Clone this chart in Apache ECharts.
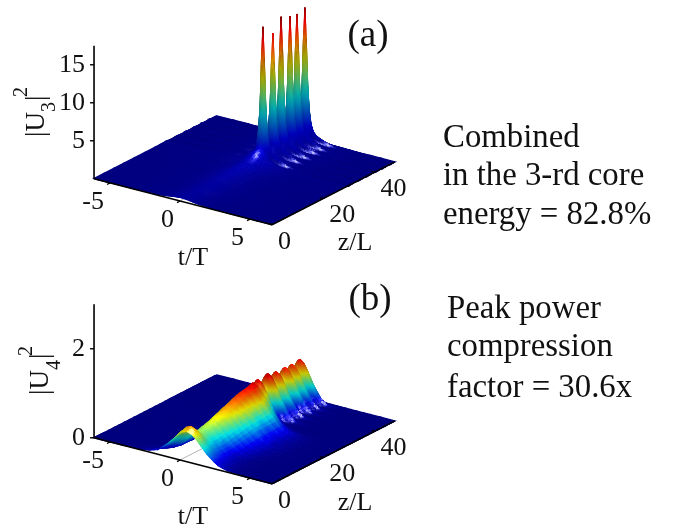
<!DOCTYPE html>
<html><head><meta charset="utf-8">
<style>html,body{margin:0;padding:0;background:#fff}#c{width:681px;height:525px}</style>
<script src="https://cdn.jsdelivr.net/npm/echarts@6/dist/echarts.min.js"></script>
</head><body><div id="c"></div>
<script>
// ---------- data ----------
const tStations=[-6.14,-5,-4,-3.2,-2.6,-2.2,-1.9,-1.6,-1.4,-1.2,-1,-.85,-.7,-.6,-.5,-.4,-.3,-.2,-.1,0,.1,.2,.3,.4,.5,.6,.7,.8,.9,1,1.1,1.2,1.35,1.5,1.7,1.9,2.1,2.4,2.7,3,3.4,3.8,4.3,4.8,5.5,6.57];
// core 3: z station, ridge height, ridge width, ridge centre
const zU3=[0,4,8,12,16,20,24,26,27,28,28.8,29.2,29.45,29.7,29.95,30.2,30.45,30.7,30.95,31.2,31.6,32.15,32.7,33.1,33.35,33.6,33.85,34.1,34.35,34.6,34.85,35.1,35.4,35.7,36,36.3,36.55,36.8,37.05,37.3,37.55,37.8,38.05,38.3,38.7,39.05,39.4,39.8,40.05,40.3,40.55,40.8,41.05,41.3,41.55,41.8,42,42.15,42.3,42.5,42.75,43,43.25,43.5,43.75,44,44.25,44.5,44.8,45.05,45.3,45.6,45.85,46.1,46.35,46.6,46.85,47.1,47.35,47.6,48];
const peakU3=[.5,.5,.55,.6,.7,.8,1,1.3,1.6,1.9,2.1,2.8,4.5,7.5,12.9,17.9,12.9,7.5,4.3,2.5,1.5,1.2,1.2,2.3,3.9,6.9,11.8,16.4,11.8,6.9,3.9,2.3,1.5,1.3,1.4,2.5,4.3,7.5,13,18,13,7.5,4.3,2.5,1.5,1.2,1.4,2.4,4.2,7.3,12.6,17.5,12.6,7.3,4.2,2.4,1.8,1.5,1.7,2.4,4.1,7.2,12.4,17.3,12.4,7.2,4.1,2.4,1.5,1.4,1.6,2.4,4.2,7.3,12.7,17.6,12.7,7.3,4.2,2.4,.3];
const widthU3=[1.3,1.3,1.3,1.3,1.25,1.2,1.1,1.05,1,.95,.8,.5,.36,.27,.22,.2,.22,.27,.36,.5,.8,1,.8,.5,.36,.27,.22,.2,.22,.27,.36,.5,.8,.9,.8,.5,.36,.27,.22,.2,.22,.27,.36,.5,.8,1,.8,.5,.36,.27,.22,.2,.22,.27,.36,.5,.7,.85,.7,.5,.36,.27,.22,.2,.22,.27,.36,.5,.8,.85,.8,.5,.36,.27,.22,.2,.22,.27,.36,.5,.5];
const centreU3=[.1,.2,.3,.3,.3,.3,.4,.4,.4,.4,.4,.4,.4,.4,.4,.4,.4,.4,.4,.4,.4,.4,.4,.4,.4,.4,.4,.4,.4,.4,.4,.4,.4,.4,.4,.4,.4,.4,.4,.4,.4,.4,.4,.4,.4,.4,.4,.4,.4,.4,.4,.4,.4,.4,.4,.4,.4,.4,.4,.4,.4,.4,.4,.4,.4,.4,.4,.4,.4,.4,.4,.4,.4,.4,.4,.4,.4,.4,.4,.4,.4];
// core 4
const zU4=[0,.5,1,1.5,2,3,4,6,8,10,12,14,16,18,20,22,24,26,28,29.2,29.6,29.9,30.2,30.5,30.8,31.2,31.7,32.15,32.6,33,33.4,33.8,34.1,34.4,34.8,35.2,35.7,36.2,36.6,37,37.3,37.6,38,38.5,39.05,39.5,39.9,40.3,40.8,41.1,41.5,41.85,42.15,42.5,42.9,43.2,43.5,43.8,44.2,44.6,45,45.4,45.8,46.2,46.6,46.9,47.3,47.6,48];
const peakU4=[.68,.705,.73,.75,.72,.63,.57,.55,.58,.62,.66,.7,.74,.78,.82,.85,.88,.9,.92,.82,.86,.9,.93,.9,.84,.76,.72,.7,.74,.8,.87,.93,.95,.91,.84,.76,.7,.76,.82,.88,.9,.87,.8,.73,.68,.73,.78,.85,.89,.86,.79,.73,.7,.74,.8,.85,.88,.85,.78,.72,.68,.73,.8,.86,.9,.84,.6,.4,.2];
const widthU4=[1.4,1.4,1.35,1.3,1.3,1.3,1.3,1.3,1.3,1.35,1.4,1.45,1.5,1.55,1.55,1.55,1.55,1.55,1.4,1.1,1.05,1,1,.95,.85,.75,.7,.7,.75,.85,.95,1,1,.95,.85,.75,.7,.8,.9,1,1,.95,.85,.75,.7,.75,.85,.95,1,.95,.85,.75,.7,.8,.9,1,1,.95,.85,.75,.7,.8,.9,1,1,.9,.7,.7,.8];
const widthLeftU4=[1.4,1.4,1.35,1.3,1.25,1.15,1.05,.95,.9,.85,.85,.85,.85,.85,.85,.85,.85,.85,.8,.75,.75,.75,.75,.75,.7,.7,.65,.65,.65,.7,.75,.75,.75,.75,.7,.7,.65,.7,.75,.75,.75,.75,.7,.7,.65,.65,.7,.75,.75,.75,.7,.7,.65,.7,.75,.75,.75,.75,.7,.7,.65,.7,.75,.75,.75,.75,.7,.7,.7];
const centreU4=[.5,.5,.5,.5,.5,.5,.5,.45,.4,.4,.35,.35,.3,.3,.25,.2,.2,.2,.1,.05,.05,.05,.05,.05,.05,.05,.05,.05,.05,.05,.05,.05,.05,.05,.05,.05,.05,.05,.05,.05,.05,.05,.05,.05,.05,.05,.05,.05,.05,.05,.05,.05,.05,.05,.05,.05,.05,.05,.05,.05,.05,.05,.05,.05,.05,.05,.05,.05,.05];
// cross-section of a ridge: distance from centre in widths, relative height
const shapeU=[0,.25,.5,.75,1,1.5,2,2.5,3,4,6,8,12,16,24];
const shapeU3=[1,.93,.77,.58,.42,.24,.16,.12,.09,.065,.045,.03,.01,0,0];
const shapeU4=[1,.94,.79,.6,.42,.15,.045,.012,.003,0,0,0,0,0,0];
const tTicks=[-5,0,5], zTicks=[0,20,40], u3Ticks=[5,10,15], u4Ticks=[0,2];

// ---------- layout ----------
const FONT='"Liberation Serif",serif', INK='#111';
const panels=[
 {name:'a',y0:201,hy:7.6,top:0,height:262,zs:zU3,ps:peakU3,ws:widthU3,wl:widthU3,cs:centreU3,shape:shapeU3,cmax:18,hTop:17.5,hBox:17.5,hTicks:u3Ticks,hv:[.2,-.65,.73]},
 {name:'b',y0:460,hy:44.5,top:263,height:262,zs:zU4,ps:peakU4,ws:widthU4,wl:widthLeftU4,cs:centreU4,shape:shapeU4,cmax:1.02,hTop:3,hBox:3,hTicks:u4Ticks,hv:[.5,-.57,.65]}
];
const P0={x0:180,tx:14,ty:3.62,zx:2.56,zy:1.31,tMin:-6.14,tMax:6.57,zMax:48};
const gridLeft=68,gridWidth=364;
const X=(t,z)=>t+z*P0.zx/P0.tx;
const Y=(p,t,z,h)=>h-(P0.ty*t-P0.zy*z)/p.hy;

function lookup(p,u){u=Math.abs(u);const a=shapeU;
 for(let k=1;k<a.length;k++){if(u<=a[k]){const f=(u-a[k-1])/(a[k]-a[k-1]);return p.shape[k-1]+f*(p.shape[k]-p.shape[k-1]);}}return 0;}
function jet(v){v=Math.max(0,Math.min(1,v));
 const c=x=>Math.max(0,Math.min(1,x));
 return [c(1.5-Math.abs(4*v-3)),c(1.5-Math.abs(4*v-2)),c(1.5-Math.abs(4*v-1))].map(x=>x*255);}

const L=[.2,-.2,.96], specPow=55;
function shade(p,h,lit,spec){const b=jet(h/p.cmax);return 'rgb('+b.map(c=>Math.round(Math.min(255,c*lit+255*spec))).join(',')+')';}
panels.forEach(p=>{
 p.H=p.zs.map((z,i)=>tStations.map(t=>p.ps[i]*lookup(p,(t-p.cs[i])/(t<p.cs[i]?p.wl[i]:p.ws[i]))));
 const nz=p.zs.length,nt=tStations.length,HV=p.hv;
 p.Lit=[];p.Spec=[];
 for(let i=0;i<nz;i++){p.Lit.push([]);p.Spec.push([]);
  for(let j=0;j<nt;j++){
   const jm=Math.max(0,j-1),jp=Math.min(nt-1,j+1),im=Math.max(0,i-1),ip=Math.min(nz-1,i+1);
   const dx=(p.H[i][jp]-p.H[i][jm])/p.hBox/((tStations[jp]-tStations[jm])/(P0.tMax-P0.tMin));
   const dy=(p.H[ip][j]-p.H[im][j])/p.hBox/((p.zs[ip]-p.zs[im])/P0.zMax);
   const n=Math.hypot(dx,dy,1),nx=-dx/n,ny=-dy/n,nn=1/n;
   p.Lit[i].push(.55+.46*Math.max(0,nx*L[0]+ny*L[1]+nn*L[2]));
   p.Spec[i].push(1.05*Math.pow(Math.max(0,nx*HV[0]+ny*HV[1]+nn*HV[2]),specPow));
  }}
 const cells=[];
 for(let i=nz-2;i>=0;i--)for(let j=0;j<nt-1;j++){
  cells.push([X(tStations[j],p.zs[i]),Y(p,tStations[j],p.zs[i],p.H[i][j]),i,j]);
 }
 p.cells=cells;
});

function surfaceSeries(p,k){
 return {type:'custom',xAxisIndex:k,yAxisIndex:k,coordinateSystem:'cartesian2d',silent:true,animation:false,progressive:0,z:3,clip:false,
  encode:{x:0,y:1},data:p.cells,
  renderItem:(params,api)=>{
   const i=api.value(2),j=api.value(3);
   const vs=[[i,j],[i,j+1],[i+1,j+1],[i+1,j]];
   const pts=vs.map(v=>api.coord([X(tStations[v[1]],p.zs[v[0]]),Y(p,tStations[v[1]],p.zs[v[0]],p.H[v[0]][v[1]])]));
   let lo=0,hi=0;
   vs.forEach((v,q)=>{if(p.H[v[0]][v[1]]<p.H[vs[lo][0]][vs[lo][1]])lo=q;if(p.H[v[0]][v[1]]>p.H[vs[hi][0]][vs[hi][1]])hi=q;});
   const a=vs[lo],b=vs[hi],ha=p.H[a[0]][a[1]],hb=p.H[b[0]][b[1]];
   const mean=f=>(vs.reduce((s,v)=>s+f[v[0]][v[1]],0))/4;
   let fill,lw=1;
   if((hb-ha)/p.cmax<.004){
    fill=shade(p,(ha+hb)/2,mean(p.Lit),mean(p.Spec));lw=1.4;
   }else{
    const stops=[0,.25,.5,.75,1].map(f=>({offset:f,color:shade(p,ha+(hb-ha)*f,
      p.Lit[a[0]][a[1]]+(p.Lit[b[0]][b[1]]-p.Lit[a[0]][a[1]])*f,
      p.Spec[a[0]][a[1]]+(p.Spec[b[0]][b[1]]-p.Spec[a[0]][a[1]])*f)}));
    fill=new echarts.graphic.LinearGradient(pts[lo][0],pts[lo][1],pts[hi][0],pts[hi][1]+.001,stops,true);
   }
   return {type:'polygon',shape:{points:pts},style:{fill:fill,stroke:fill,lineWidth:lw}};
  }};
}
function lineEl(a,b,w,col){return {type:'line',shape:{x1:a[0],y1:a[1],x2:b[0],y2:b[1]},style:{stroke:col||'#000',lineWidth:w}};}
function textEl(s,x,y,al){return {type:'text',style:{text:s,x:x,y:y,font:'26px '+FONT,fill:INK,align:al,verticalAlign:'middle'}};}

function floorGridSeries(p,k){
 return {type:'custom',xAxisIndex:k,yAxisIndex:k,coordinateSystem:'cartesian2d',silent:true,animation:false,z:2,clip:false,
  data:[[0,0]],renderItem:(params,api)=>({type:'group',children:[
   lineEl(api.coord([X(0,0),Y(p,0,0,0)]),api.coord([X(0,12),Y(p,0,12,0)]),1,'#b4b4b4')]})};
}
function axesSeries(p,k){
 const items=[['axes']].concat(tTicks.map(v=>['t',v]),zTicks.map(v=>['z',v]),p.hTicks.map(v=>['h',v]));
 return {type:'custom',xAxisIndex:k,yAxisIndex:k,coordinateSystem:'cartesian2d',silent:true,animation:false,z:5,clip:false,
  data:items.map((it,i)=>[0,0,i]),
  renderItem:(params,api)=>{
   const c=(t,z,h)=>api.coord([X(t,z),Y(p,t,z,h)]);
   const it=items[params.dataIndex];
   if(it[0]==='axes')return {type:'group',children:[
     lineEl(c(P0.tMin,0,0),c(P0.tMin,0,p.hTop),1.6),
     lineEl(c(P0.tMin,0,0),c(P0.tMax,0,0),1.6),
     lineEl(c(P0.tMax,0,0),c(P0.tMax,P0.zMax,0),1.6)]};
   if(it[0]==='t'){const a=c(it[1],0,0);return {type:'group',children:[
     lineEl(a,[a[0]-3,a[1]+1.6],1.4),textEl(String(it[1]),a[0]-6,a[1]+19,'right')]};}
   if(it[0]==='z'){const a=c(P0.tMax,it[1],0);return {type:'group',children:[
     lineEl(a,[a[0]-3,a[1]-1],1.4),textEl(String(it[1]),a[0]+6,a[1]+17,'left')]};}
   const a=c(P0.tMin,0,it[1]);return {type:'group',children:[
     lineEl(a,[a[0]-4,a[1]],1.4),textEl(String(it[1]),a[0]-9,a[1],'right')]};
  }};
}
const series=[];
panels.forEach((p,k)=>{series.push(floorGridSeries(p,k),surfaceSeries(p,k),axesSeries(p,k));});

function rot(s,x,y,size,col){return {type:'text',rotation:Math.PI/2,x:x,y:y,z:10,style:{text:s,font:size+'px '+FONT,fill:col||INK,align:'left',verticalAlign:'middle'}};}
function plain(s,x,y,size,al){return {type:'text',x:x,y:y,z:10,style:{text:s,font:size+'px '+FONT,fill:INK,align:al||'left',verticalAlign:'middle'}};}
const graphic=[
 plain('(a)',368,36,37,'center'),plain('(b)',370,300,37,'center'),
 plain('Combined',443,138,32.8),plain('in the 3-rd core',443,176,32.8),plain('energy = 82.8%',443,215,32.8),
 plain('Peak power',447,309,32.8),plain('compression',447,347,32.8),plain('factor = 30.6x',447,388,32.8),
 rot('|U',37,137,27),rot('3',50,112,20),rot('|',37,101,27),rot('2',22,97,20),
 rot('|U',41,395,27),rot('4',55,370,20),rot('|',41,359,27),rot('2',27,356,20),
 plain('t/T',193,258,26,'center'),plain('t/T',193,517,26,'center'),
 plain('z/L',355,243,26,'center'),plain('z/L',355,503,26,'center')
];
const chart=echarts.init(document.getElementById('c'),null,{renderer:'canvas'});
chart.setOption({animation:false,backgroundColor:'#fff',
 grid:panels.map(p=>({left:gridLeft,width:gridWidth,top:p.top,height:p.height})),
 xAxis:panels.map((p,k)=>({type:'value',gridIndex:k,show:false,min:(gridLeft-P0.x0)/P0.tx,max:(gridLeft+gridWidth-P0.x0)/P0.tx})),
 yAxis:panels.map((p,k)=>({type:'value',gridIndex:k,show:false,min:(p.y0-p.top-p.height)/p.hy,max:(p.y0-p.top)/p.hy})),
 series:series,graphic:graphic});
</script></body></html>
